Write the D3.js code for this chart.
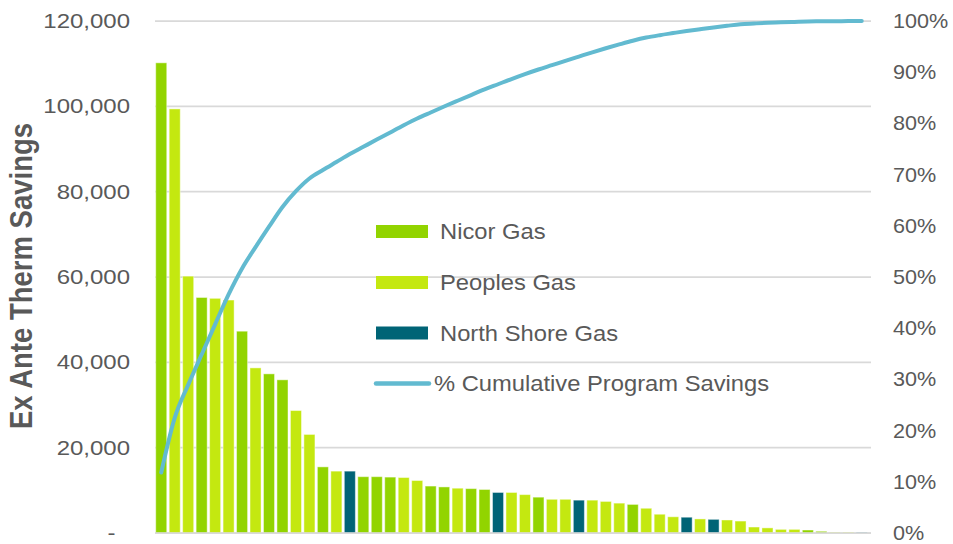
<!DOCTYPE html>
<html>
<head>
<meta charset="utf-8">
<script src="https://cdn.jsdelivr.net/npm/d3@7/dist/d3.min.js"></script>
<style>
  html, body { margin: 0; padding: 0; background: #fff; }
  svg { display: block; font-family: "Liberation Sans", Arial, sans-serif; }
</style>
</head>
<body>
<svg id="chart" width="953" height="544"></svg>
<script>
// ---- Data ----
const savings = [110200, 99400, 60200, 55200, 55000, 54600, 47300, 38700, 37300, 35900,
  28700, 23100, 15500, 14500, 14500, 13200, 13200, 13100, 13000, 12300,
  11000, 10800, 10500, 10400, 10200, 9500, 9500, 9000, 8400, 7900,
  7900, 7700, 7700, 7400, 7000, 6700, 5800, 4400, 3800, 3700,
  3300, 3200, 3050, 2800, 1400, 1200, 850, 850, 700, 400,
  200, 200, 150];
const utility = ["Nicor Gas", "Peoples Gas", "Peoples Gas", "Nicor Gas", "Peoples Gas", "Peoples Gas", "Nicor Gas", "Peoples Gas", "Nicor Gas", "Nicor Gas",
  "Peoples Gas", "Peoples Gas", "Nicor Gas", "Peoples Gas", "North Shore Gas", "Nicor Gas", "Nicor Gas", "Nicor Gas", "Peoples Gas", "Peoples Gas",
  "Nicor Gas", "Nicor Gas", "Peoples Gas", "Nicor Gas", "Nicor Gas", "North Shore Gas", "Peoples Gas", "Peoples Gas", "Nicor Gas", "Peoples Gas",
  "Peoples Gas", "North Shore Gas", "Peoples Gas", "Peoples Gas", "Peoples Gas", "Nicor Gas", "Peoples Gas", "Peoples Gas", "Peoples Gas", "North Shore Gas",
  "Peoples Gas", "North Shore Gas", "Peoples Gas", "Peoples Gas", "Peoples Gas", "Peoples Gas", "Peoples Gas", "Peoples Gas", "Nicor Gas", "Nicor Gas",
  "Peoples Gas", "Peoples Gas", "North Shore Gas"];
const seriesNames = ["Nicor Gas", "Peoples Gas", "North Shore Gas"];
const seriesColors = ["#92D400", "#C4E810", "#006476"];
const lineName = "% Cumulative Program Savings";
const leftTicks = [0, 20000, 40000, 60000, 80000, 100000, 120000];
const rightTicks = [0, 0.1, 0.2, 0.3, 0.4, 0.5, 0.6, 0.7, 0.8, 0.9, 1.0];
const yTitle = "Ex Ante Therm Savings";

// ---- Derived cumulative share ----
const total = d3.sum(savings);
let run = 0;
const cumulative = savings.map(v => (run += v) / total);

// ---- Layout ----
const svg = d3.select("#chart");
const plot = { left: 154.5, right: 868.5, top: 21, bottom: 533 };
const idx = savings.map((d, i) => i);

const x = d3.scaleBand().domain(idx).range([plot.left, plot.right]).paddingInner(0.18).paddingOuter(0.09);
const y = d3.scaleLinear().domain([0, 120000]).range([plot.bottom, plot.top]);
const y2 = d3.scaleLinear().domain([0, 1]).range([plot.bottom, plot.top]);
const color = d3.scaleOrdinal().domain(seriesNames).range(seriesColors);

const textColor = "#595959";
const gridColor = "#D9D9D9";

// gridlines
svg.append("g")
  .selectAll("line")
  .data(leftTicks)
  .join("line")
  .attr("x1", 155).attr("x2", 871)
  .attr("y1", d => y(d)).attr("y2", d => y(d))
  .attr("stroke", gridColor).attr("stroke-width", 1.75);

// left axis labels (generated by d3 axis, then widened to match the reference glyphs)
const fmt = d3.format(",");
const leftAxis = d3.axisLeft(y).tickValues(leftTicks).tickSize(0).tickPadding(0)
  .tickFormat(d => d === 0 ? "-" : fmt(d));
const gL = svg.append("g").attr("transform", "translate(130,0)").call(leftAxis);
gL.select(".domain").remove();
gL.selectAll(".tick text")
  .attr("fill", textColor).style("font-size", "20px")
  .style("font-family", '"Liberation Sans", Arial, sans-serif')
  .attr("x", d => d === 0 ? -12 : 0)
  .attr("transform", "scale(1.2,1)");

// right axis labels
const rightAxis = d3.axisRight(y2).tickValues(rightTicks).tickSize(0).tickPadding(0)
  .tickFormat(d3.format(".0%"));
const gR = svg.append("g").attr("transform", "translate(893,0)").call(rightAxis);
gR.select(".domain").remove();
gR.selectAll(".tick text")
  .attr("fill", textColor).style("font-size", "20px")
  .style("font-family", '"Liberation Sans", Arial, sans-serif')
  .attr("transform", "scale(1.08,1)");

// y title
svg.append("text")
  .attr("transform", "translate(32,276) scale(1.12,1) rotate(-90)")
  .attr("text-anchor", "middle")
  .attr("fill", textColor)
  .style("font-size", "27.5px").style("font-weight", "bold")
  .text(yTitle);

// bars
svg.append("g")
  .selectAll("rect")
  .data(idx)
  .join("rect")
  .attr("x", i => x(i))
  .attr("width", x.bandwidth())
  .attr("y", i => y(savings[i]))
  .attr("height", i => y(0) - y(savings[i]))
  .attr("fill", i => color(utility[i]))
  .attr("stroke", "#ffffff").attr("stroke-opacity", 0.45).attr("stroke-width", 1);

// x axis line
svg.append("line")
  .attr("x1", 155).attr("x2", 871)
  .attr("y1", plot.bottom).attr("y2", plot.bottom)
  .attr("stroke", gridColor).attr("stroke-width", 1.75);

// cumulative line
const line = d3.line()
  .x(i => x(i) + x.bandwidth() / 2)
  .y(i => y2(cumulative[i]))
  .curve(d3.curveMonotoneX);
svg.append("path")
  .datum(idx)
  .attr("d", line)
  .attr("fill", "none")
  .attr("stroke", "#62BAD0")
  .attr("stroke-width", 4)
  .attr("stroke-linecap", "round");

// legend
const legend = svg.append("g");
const legendY = [231.5, 282.5, 333];
seriesNames.forEach((name, k) => {
  legend.append("rect")
    .attr("x", 376).attr("y", legendY[k] - 6.5)
    .attr("width", 52).attr("height", 13)
    .attr("fill", seriesColors[k]);
  legend.append("text")
    .attr("transform", `translate(440,${legendY[k]}) scale(1.08,1)`)
    .attr("dy", "0.35em")
    .attr("fill", textColor)
    .style("font-size", "22px")
    .text(name);
});
legend.append("line")
  .attr("x1", 376).attr("x2", 429)
  .attr("y1", 383.5).attr("y2", 383.5)
  .attr("stroke", "#62BAD0").attr("stroke-width", 4.5)
  .attr("stroke-linecap", "round");
legend.append("text")
  .attr("transform", "translate(434,383.5) scale(1.08,1)")
  .attr("dy", "0.35em")
  .attr("fill", textColor)
  .style("font-size", "22px")
  .text(lineName);
</script>
</body>
</html>
